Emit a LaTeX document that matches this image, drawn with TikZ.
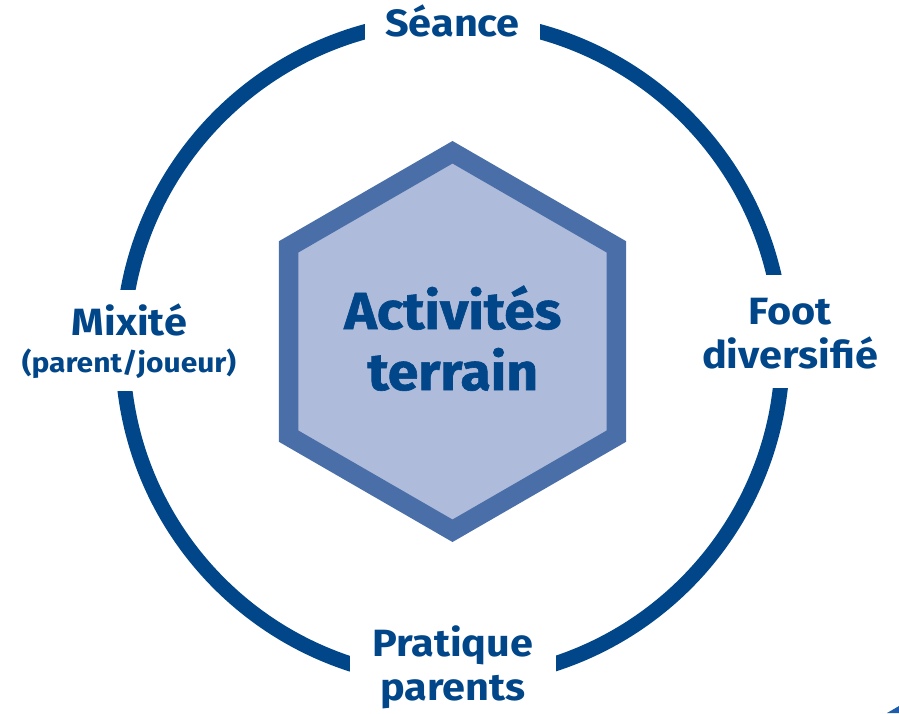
\documentclass[tikz,border=0pt]{standalone}
\usepackage{fontspec}
\setmainfont{Fira Sans}[FakeStretch=1.09]
\newfontfamily\heavyfont{Fira Sans}[FakeStretch=1.06, FakeBold=1.2]
\usetikzlibrary{shapes.geometric}
\definecolor{ringblue}{RGB}{0,70,136}
\definecolor{hexborder}{RGB}{74,111,168}
\definecolor{hexfill}{RGB}{175,187,218}
\definecolor{cornerblue}{RGB}{31,92,170}
\begin{document}
\begin{tikzpicture}[x=1pt,y=-1pt,
  lbl/.style={font=\fontsize{38}{44}\selectfont\bfseries, text=ringblue, inner sep=0pt, anchor=base},
  smalllbl/.style={font=\fontsize{27.5}{30}\selectfont\bfseries, text=ringblue, inner sep=0pt, anchor=base},
  biglbl/.style={font=\heavyfont\fontsize{52}{60}\selectfont\bfseries, text=ringblue, inner sep=0pt, anchor=base},
  hexnode/.style={regular polygon, regular polygon sides=6, regular polygon rotate=30,
    minimum size=378.5pt, inner sep=0pt, outer sep=0pt, draw=hexborder, fill=hexfill,
    line width=19.5pt, line join=miter},
  ring/.style={draw=ringblue, line width=15pt},
  gapfill/.style={fill=white}]
\useasboundingbox (0,0) rectangle (899,713);
% ring
\draw[ring] (452.5,350) circle[radius=330];
% gaps in the ring behind the labels
\fill[gapfill] (365,0) rectangle (540,55);
\fill[gapfill] (350,615) rectangle (556,713);
\fill[gapfill] (95,290) rectangle (160,390.7);
\fill[gapfill] (740,275) rectangle (810,388);
% central hexagon
\node[hexnode] (hex) at (452.5,341.5) {};
\node[biglbl] (act1) at (452.8,329) {Activités};
\node[biglbl] (act2) at (452.8,390) {terrain};
% labels
\node[lbl] (seance) at (452.5,36.5) {Séance};
\node[lbl] (prat1) at (452.8,656.7) {Pratique};
\node[lbl] (prat2) at (452.8,700) {parents};
\node[lbl] (foot1) at (790,324) {Foot};
\node[lbl] (foot2) at (790,368.3) {diversifié};
\node[lbl] (mix1) at (129.4,335) {Mixité};
\node[smalllbl] (mix2) at (129,372) {(parent/joueur)};
% corner fragment
\fill[cornerblue] (887,713) -- (899,706) -- (899,713) -- cycle;
\end{tikzpicture}
\end{document}
